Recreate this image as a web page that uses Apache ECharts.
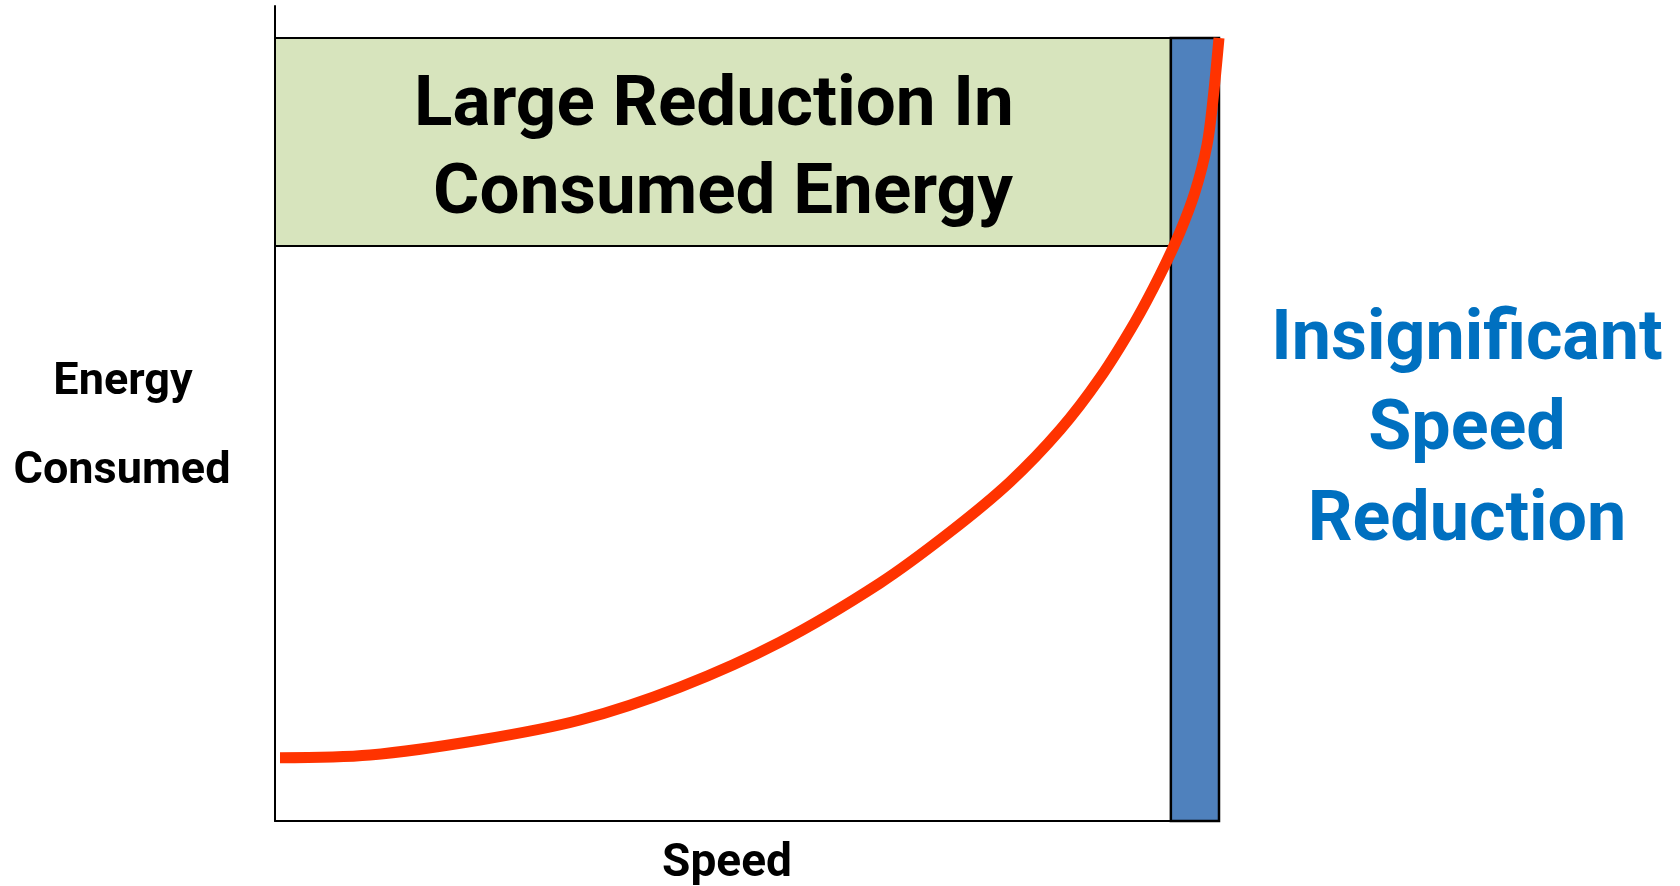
<!DOCTYPE html>
<html>
<head>
<meta charset="utf-8">
<script src="https://cdn.jsdelivr.net/npm/echarts@6/dist/echarts.min.js"></script>
<style>
  html, body { margin: 0; padding: 0; background: #fff; }
  #chart { width: 1680px; height: 886px; }
</style>
</head>
<body>
<div id="chart"></div>
<script>
// Energy consumed as a function of speed (relative units, 0-100 on both axes)
const speed  = [0.53, 10.06, 21.72, 32.31, 42.90, 53.50, 64.09, 71.50, 77.86, 83.16, 87.39, 91.10, 93.75, 95.87, 97.46, 98.73, 99.36, 100];
const energy = [7.77, 8.10, 9.94, 12.39, 16.44, 21.96, 29.20, 35.46, 41.60, 47.98, 54.36, 61.23, 66.99, 72.27, 77.18, 82.94, 88.47, 96.07];

// Highlighted regions: [xFrom, xTo] and [yFrom, yTo]
const energyBandX = [0, 94.9];
const energyBandY = [70.55, 96.07];
const speedBandX  = [94.9, 100];
const speedBandY  = [0, 96.07];

// Text blocks
const energyBandText = ['Large Reduction In', 'Consumed Energy'];
const speedBandText  = ['Insignificant', 'Speed', 'Reduction'];
const yAxisTitle     = ['Energy', 'Consumed'];
const xAxisTitle     = 'Speed';

const FONT = 'Roboto, "Liberation Sans", sans-serif';

const chart = echarts.init(document.getElementById('chart'), null, { renderer: 'canvas' });

function textEl(str, x, y, size, color) {
  return {
    type: 'text',
    x: x, y: y,
    style: {
      text: str,
      fill: color,
      font: 'bold ' + size + 'px ' + FONT,
      align: 'center',
      verticalAlign: 'middle'
    },
    z: 100
  };
}

const graphics = [
  textEl(energyBandText[0], 714, 107, 71, '#000'),
  textEl(energyBandText[1], 723, 195.5, 71, '#000'),
  textEl(speedBandText[0], 1467, 341, 70, '#0070C0'),
  textEl(speedBandText[1], 1467, 431, 70, '#0070C0'),
  textEl(speedBandText[2], 1467, 522, 70, '#0070C0'),
  textEl(yAxisTitle[0], 123, 383, 45, '#000'),
  textEl(yAxisTitle[1], 122, 472, 45, '#000'),
  textEl(xAxisTitle, 727, 864, 46, '#000')
];

const option = {
  animation: false,
  backgroundColor: '#fff',
  grid: { left: 275, right: 461, top: 6, bottom: 65 },
  xAxis: {
    type: 'value', min: 0, max: 100,
    axisLine: { show: true, onZero: false, lineStyle: { color: '#000', width: 2 } },
    axisTick: { show: false }, axisLabel: { show: false }, splitLine: { show: false }
  },
  yAxis: {
    type: 'value', min: 0, max: 100,
    axisLine: { show: true, onZero: false, lineStyle: { color: '#000', width: 2 } },
    axisTick: { show: false }, axisLabel: { show: false }, splitLine: { show: false }
  },
  series: [
    {
      type: 'line',
      z: 1,
      data: [],
      silent: true,
      markArea: {
        silent: true,
        data: [
          [
            { coord: [energyBandX[0], energyBandY[1]], itemStyle: { color: '#D7E4BD', borderColor: '#000', borderWidth: 2 } },
            { coord: [energyBandX[1], energyBandY[0]] }
          ],
          [
            { coord: [speedBandX[0], speedBandY[1]], itemStyle: { color: '#4F81BD', borderColor: '#000', borderWidth: 2.5 } },
            { coord: [speedBandX[1], speedBandY[0]] }
          ]
        ]
      }
    },
    {
      type: 'line',
      z: 5,
      clip: false,
      smooth: 0.33,
      showSymbol: false,
      data: speed.map((s, i) => [s, energy[i]]),
      lineStyle: { color: '#FF3300', width: 11, cap: 'butt' }
    }
  ],
  graphic: graphics
};

chart.setOption(option);
</script>
</body>
</html>
